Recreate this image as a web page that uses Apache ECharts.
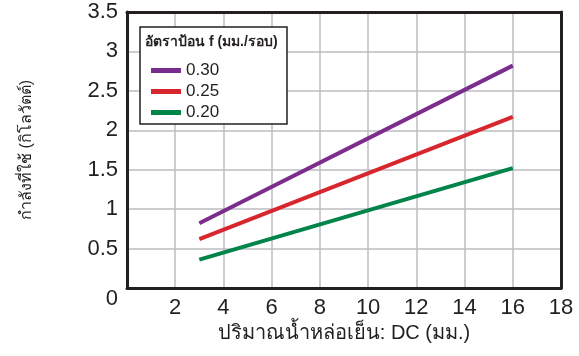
<!DOCTYPE html>
<html><head><meta charset="utf-8">
<script src="https://cdn.jsdelivr.net/npm/echarts@6/dist/echarts.min.js"></script>
<style>html,body{margin:0;padding:0;background:#fff}#c{width:579px;height:356px}</style>
</head><body><div id="c"></div>
<script>
const coolantDC = [3, 16];
const seriesNames = ['0.30', '0.25', '0.20'];
const feed030 = [0.82, 2.82];
const feed025 = [0.62, 2.17];
const feed020 = [0.36, 1.52];
const colors = ['#7b2d8e', '#d7262e', '#00844a'];
const xTicks = [0, 2, 4, 6, 8, 10, 12, 14, 16, 18];
const yTicks = [0, 0.5, 1, 1.5, 2, 2.5, 3, 3.5];
const legendTitle = 'อัตราป้อน f (มม./รอบ)';
const xName = 'ปริมาณน้ำหล่อเย็น: DC (มม.)';
const yName = 'กำลังที่ใช้ (กิโลวัตต์)';

const FONT = '"Liberation Sans", "Noto Sans", Arial, sans-serif';
const TXT = '#231f20';
const FRAME = { show: true, onZero: false, lineStyle: { color: '#231f20', width: 3 } };
const values = [feed030, feed025, feed020];
const xMin = xTicks[0], xMax = xTicks[xTicks.length - 1];
const yMin = yTicks[0], yMax = yTicks[yTicks.length - 1];
const chart = echarts.init(document.getElementById('c'));
chart.setOption({
  animation: false,
  grid: { left: 127, right: 18, top: 12, bottom: 68 },
  xAxis: [{
    type: 'value', min: xMin, max: xMax, interval: 2,
    name: xName, nameLocation: 'middle', nameGap: 32,
    nameTextStyle: { fontSize: 20, color: TXT, fontFamily: FONT },
    axisLine: FRAME, axisTick: { show: false },
    axisLabel: { fontSize: 22, color: TXT, fontFamily: FONT, margin: 9,
      formatter: v => v === 0 ? '' : String(v) },
    splitLine: { show: true, lineStyle: { color: '#bdbdc2', width: 1.5 } }
  }, {
    type: 'value', position: 'top', min: xMin, max: xMax, interval: 2,
    axisLine: FRAME, axisTick: { show: false }, axisLabel: { show: false }, splitLine: { show: false }
  }],
  yAxis: [{
    type: 'value', min: yMin, max: yMax, interval: 0.5,
    name: yName, nameLocation: 'middle', nameGap: 92, nameRotate: 90,
    nameTextStyle: { fontSize: 16, color: TXT, fontFamily: FONT },
    axisLine: FRAME, axisTick: { show: false },
    axisLabel: { fontSize: 22, color: TXT, fontFamily: FONT, margin: 9,
      formatter: v => v === 0 ? '{z|0}' : String(v),
      rich: { z: { fontSize: 22, color: TXT, fontFamily: FONT, padding: [22, 0, 0, 0] } } },
    splitLine: { show: true, lineStyle: { color: '#bdbdc2', width: 1.5 } }
  }, {
    type: 'value', position: 'right', min: yMin, max: yMax, interval: 0.5,
    axisLine: FRAME, axisTick: { show: false }, axisLabel: { show: false }, splitLine: { show: false }
  }],
  legend: {
    left: 146, top: 57, orient: 'vertical', itemWidth: 30, itemHeight: 5, itemGap: 4,
    icon: 'rect', z: 200,
    textStyle: { fontSize: 17, color: TXT, fontFamily: FONT, lineHeight: 17 },
    data: seriesNames
  },
  graphic: [
    { type: 'rect', z: 150, shape: { x: 140, y: 27, width: 147, height: 97 },
      style: { fill: '#fff', stroke: '#231f20', lineWidth: 1.5 } },
    { type: 'text', z: 160, x: 145, y: 35,
      style: { text: legendTitle, fontSize: 14, fontWeight: 'bold', fill: TXT, fontFamily: FONT } }
  ],
  series: values.map((arr, i) => ({
    name: seriesNames[i], type: 'line', showSymbol: false, symbol: 'none',
    lineStyle: { color: colors[i], width: 4 }, itemStyle: { color: colors[i] },
    data: coolantDC.map((x, j) => [x, arr[j]])
  }))
});
</script></body></html>
